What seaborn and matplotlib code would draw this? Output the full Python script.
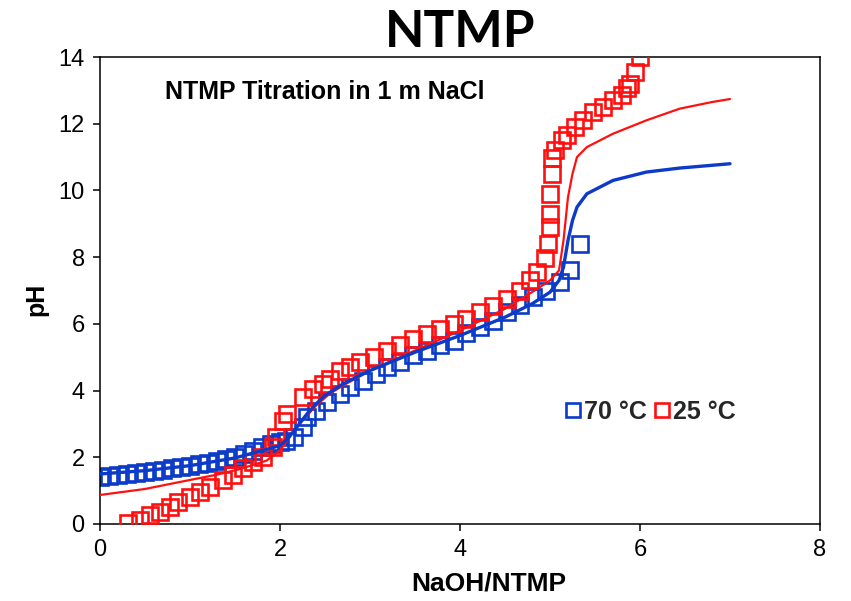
import matplotlib
matplotlib.use("Agg")
import matplotlib.pyplot as plt
from matplotlib.lines import Line2D
import seaborn as sns
import pandas as pd

# ---- data ----
blue_sq_x = [0.0, 0.1, 0.2, 0.3, 0.4, 0.5, 0.6, 0.7, 0.8, 0.9, 1.0, 1.1, 1.2, 1.3, 1.4,
             1.5, 1.6, 1.7, 1.8, 1.9, 2.0, 2.07, 2.15, 2.26, 2.3, 2.4, 2.52, 2.67, 2.78,
             2.92, 3.07, 3.19, 3.33, 3.48, 3.63, 3.78, 3.93, 4.07, 4.22, 4.37, 4.52, 4.67,
             4.81, 4.95, 5.11, 5.22, 5.33]
blue_sq_y = [1.42, 1.45, 1.48, 1.50, 1.53, 1.56, 1.60, 1.63, 1.67, 1.71, 1.75, 1.79, 1.84,
             1.89, 1.95, 2.02, 2.10, 2.20, 2.30, 2.40, 2.45, 2.5, 2.6, 2.9, 3.2, 3.4, 3.66,
             3.9, 4.1, 4.3, 4.5, 4.7, 4.86, 5.06, 5.2, 5.37, 5.5, 5.72, 5.9, 6.1, 6.35,
             6.56, 6.8, 7.0, 7.25, 7.6, 8.4]

red_sq_x = [0.31, 0.44, 0.56, 0.67, 0.78, 0.87, 1.0, 1.11, 1.22, 1.37, 1.48, 1.59, 1.7,
            1.81, 1.92, 1.96, 2.03, 2.08, 2.26, 2.37, 2.48, 2.55, 2.67, 2.78, 2.89, 3.04,
            3.19, 3.33, 3.48, 3.63, 3.78, 3.93, 4.07, 4.22, 4.37, 4.52, 4.67, 4.78, 4.85,
            4.94, 4.98, 5.0, 5.0, 5.0, 5.02, 5.02, 5.05, 5.13, 5.19, 5.28, 5.37, 5.48,
            5.59, 5.7, 5.8, 5.85, 5.89, 5.94, 6.0]
red_sq_y = [0.03, 0.12, 0.27, 0.36, 0.51, 0.66, 0.81, 0.96, 1.11, 1.32, 1.47, 1.68, 1.86,
            2.0, 2.3, 2.6, 3.1, 3.3, 3.8, 4.05, 4.2, 4.35, 4.6, 4.72, 4.85, 5.0, 5.2, 5.37,
            5.55, 5.7, 5.85, 6.0, 6.15, 6.35, 6.55, 6.75, 7.0, 7.3, 7.55, 7.97, 8.4, 8.9,
            9.3, 9.9, 10.5, 10.96, 11.2, 11.5, 11.66, 11.9, 12.1, 12.35, 12.5, 12.7, 12.86,
            13.07, 13.2, 13.55, 14.0]

blue_line_x = [0.0, 0.5, 1.0, 1.5, 1.8, 2.0, 2.1, 2.2, 2.3, 2.4, 2.5, 2.7, 3.0, 3.5, 4.0,
               4.5, 4.8, 5.0, 5.1, 5.15, 5.2, 5.25, 5.3, 5.41, 5.7, 6.07, 6.44, 7.0]
blue_line_y = [1.5, 1.6, 1.75, 1.98, 2.2, 2.35, 2.6, 2.95, 3.3, 3.6, 3.85, 4.2, 4.6, 5.15,
               5.65, 6.2, 6.6, 6.95, 7.3, 7.7, 8.5, 9.1, 9.5, 9.9, 10.3, 10.55, 10.67, 10.8]

red_line_x = [0.0, 0.5, 1.0, 1.3, 1.56, 1.85, 2.0, 2.1, 2.2, 2.3, 2.4, 2.55, 2.7, 3.0, 3.5,
              4.0, 4.5, 4.8, 5.0, 5.1, 5.15, 5.2, 5.25, 5.3, 5.41, 5.7, 6.07, 6.44, 6.8, 7.0]
red_line_y = [0.87, 1.05, 1.32, 1.48, 1.65, 1.9, 2.2, 2.6, 2.95, 3.25, 3.55, 3.9, 4.15, 4.6,
              5.2, 5.8, 6.45, 6.95, 7.3, 7.6, 8.5, 9.8, 10.5, 11.0, 11.3, 11.7, 12.1, 12.45,
              12.65, 12.74]

x_ticks = [0, 2, 4, 6, 8]
y_ticks = [0, 2, 4, 6, 8, 10, 12, 14]
series_labels = ["70 \u00b0C", "25 \u00b0C"]
title_text = "NTMP"
note_text = "NTMP Titration in 1 m NaCl"
x_label = "NaOH/NTMP"
y_label = "pH"

BLUE = "#0B3BC8"
RED = "#FF1010"

sns.set_theme(style="white")
plt.rcParams["font.family"] = ["Liberation Sans", "DejaVu Sans"]

fig = plt.figure(figsize=(8.51, 6.01), dpi=100)
ax = fig.add_axes([100 / 851, 77 / 601, 720 / 851, 467 / 601])

df_bsq = pd.DataFrame({"x": blue_sq_x, "y": blue_sq_y})
df_rsq = pd.DataFrame({"x": red_sq_x, "y": red_sq_y})
df_bl = pd.DataFrame({"x": blue_line_x, "y": blue_line_y})
df_rl = pd.DataFrame({"x": red_line_x, "y": red_line_y})

mk = dict(marker="s", linestyle="none", markerfacecolor="none", markersize=11.5,
          markeredgewidth=1.9, estimator=None, sort=False, legend=False)
sns.lineplot(data=df_bsq, x="x", y="y", ax=ax, color=BLUE, markeredgecolor=BLUE, zorder=2, **mk)
sns.lineplot(data=df_rsq, x="x", y="y", ax=ax, color=RED, markeredgecolor=RED, zorder=3, **mk)
sns.lineplot(data=df_rl, x="x", y="y", ax=ax, color=RED, linewidth=1.6,
             estimator=None, sort=False, legend=False, zorder=4)
sns.lineplot(data=df_bl, x="x", y="y", ax=ax, color=BLUE, linewidth=2.4,
             estimator=None, sort=False, legend=False, zorder=5)

ax.set_xlim(0, 8)
ax.set_ylim(0, 14)
ax.set_xticks(x_ticks)
ax.set_yticks(y_ticks)
ax.tick_params(axis="both", which="major", direction="out", length=5, width=1.1,
               color="black", labelsize=17, labelcolor="black", pad=6,
               bottom=True, left=True)
for sp in ax.spines.values():
    sp.set_visible(True)
    sp.set_color("black")
    sp.set_linewidth(1.1)
ax.grid(False)

ax.set_xlabel(x_label, fontsize=19, fontweight="bold", color="black")
ax.xaxis.set_label_coords(0.54, -0.102)
ax.set_ylabel(y_label, fontsize=18, fontweight="bold", color="black")
ax.yaxis.set_label_coords(-0.072, 0.48)

fig.text(460 / 851, 1 - 47 / 601, title_text, ha="center", va="baseline",
         fontsize=37, fontweight="bold", family=["Lato", "DejaVu Sans"], color="black")

ax.text(0.09, 0.925, note_text, transform=ax.transAxes, ha="left", va="center",
        fontsize=18, fontweight="bold", color="black")

handles = [Line2D([], [], marker="s", linestyle="none", markerfacecolor="none",
                  markeredgecolor=BLUE, markeredgewidth=1.9, markersize=10.5),
           Line2D([], [], marker="s", linestyle="none", markerfacecolor="none",
                  markeredgecolor=RED, markeredgewidth=1.9, markersize=10.5)]
leg = ax.legend(handles, series_labels, loc="center left", bbox_to_anchor=(0.615, 0.24),
                ncol=2, frameon=False, handlelength=0.6, handletextpad=0.15,
                columnspacing=0.3, prop={"weight": "bold", "size": 18})

fig.savefig("out.png", dpi=100, facecolor="white")
